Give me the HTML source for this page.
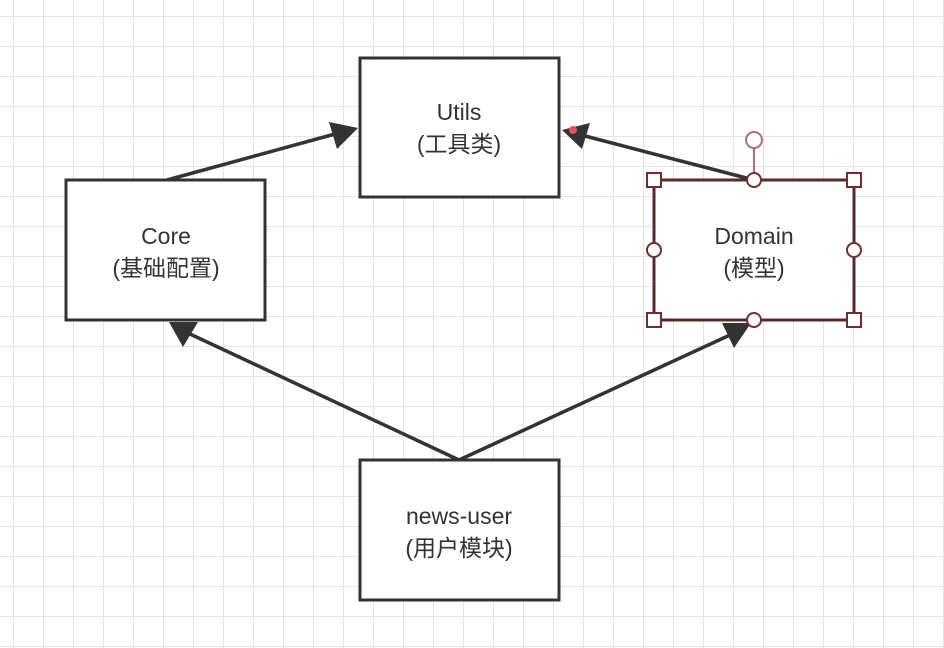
<!DOCTYPE html>
<html><head><meta charset="utf-8"><style>
html,body{margin:0;padding:0;background:#fff;}
svg{display:block;}
text{font-family:"Liberation Sans","Noto Sans CJK SC",sans-serif;font-size:23px;fill:#333;}
</style></head><body>
<svg width="944" height="648" viewBox="0 0 944 648" xmlns="http://www.w3.org/2000/svg">
<defs>
<pattern id="g" x="-16" y="-13" width="30" height="30" patternUnits="userSpaceOnUse">
<path d="M30 0V30M0 30H30" stroke="#e4e4e8" stroke-width="2" fill="none"/>
</pattern>
</defs>
<rect width="944" height="648" fill="url(#g)"/>
<g stroke="#333" stroke-width="3.5" fill="none">
<line x1="167" y1="180" x2="335" y2="134"/>
<line x1="754" y1="180" x2="585" y2="136"/>
<line x1="459" y1="460" x2="190" y2="334"/>
<line x1="459" y1="460" x2="730" y2="335"/>
</g>
<g fill="#333">
<polygon points="358,128 329,122 337,149"/>
<polygon points="562,130 582,149 590,123"/>
<polygon points="169,322 183,347 198,322"/>
<polygon points="751,323 722,323 734,348"/>
</g>
<g fill="#fff" stroke="#333" stroke-width="3">
<rect x="360" y="58" width="199" height="139"/>
<rect x="66" y="180" width="199" height="140"/>
<rect x="360" y="460" width="199" height="140"/>
</g>
<rect x="654" y="180" width="200" height="140" fill="#fff" stroke="#5a2a2a" stroke-width="3"/>
<circle cx="573" cy="130" r="4" fill="#e05555"/>
<line x1="754" y1="147" x2="754" y2="180" stroke="#b07070" stroke-width="2"/>
<circle cx="754" cy="140" r="8" fill="#fff" stroke="#b07070" stroke-width="2"/>
<g fill="#fff" stroke="#7a2a2a" stroke-width="2">
<circle cx="754" cy="180" r="7"/>
<circle cx="754" cy="320" r="7"/>
<circle cx="654" cy="250" r="7"/>
<circle cx="854" cy="250" r="7"/>
<rect x="647" y="173" width="14" height="14"/>
<rect x="847" y="173" width="14" height="14"/>
<rect x="647" y="313" width="14" height="14"/>
<rect x="847" y="313" width="14" height="14"/>
</g>
<g text-anchor="middle">
<text x="459" y="120">Utils</text>
<text x="459" y="152">(工具类)</text>
<text x="166" y="244">Core</text>
<text x="166" y="276">(基础配置)</text>
<text x="754" y="244">Domain</text>
<text x="754" y="276">(模型)</text>
<text x="459" y="524">news-user</text>
<text x="459" y="556">(用户模块)</text>
</g>
</svg>
</body></html>
